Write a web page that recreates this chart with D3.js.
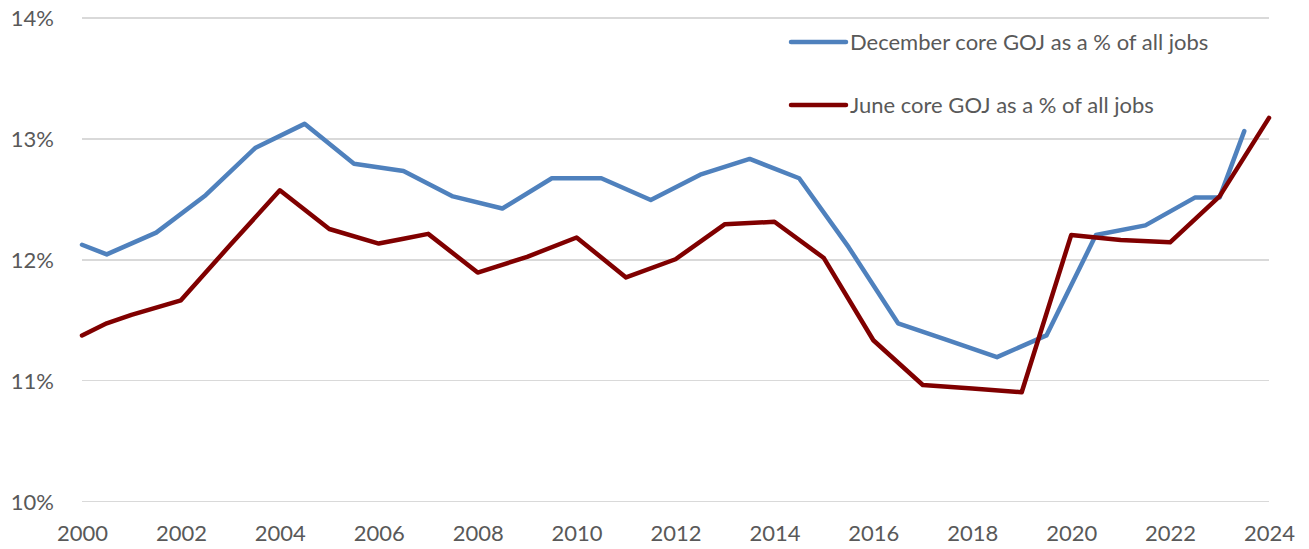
<!DOCTYPE html>
<meta charset="utf-8">
<style>
  body { margin: 0; background: #fff; }
  .grid line { stroke: #d9d9d9; stroke-width: 1.5px; shape-rendering: crispEdges; }
  .grid path { stroke-width: 0; }
  .axis text { fill: #595959; font-family: Lato, "Open Sans", sans-serif; font-size: 22px; }
  .axis path, .axis line { display: none; }
  .line { fill: none; stroke-width: 4.5px; stroke-linejoin: round; stroke-linecap: round; }
  .legend text { fill: #595959; font-family: Lato, "Open Sans", sans-serif; font-size: 22px; }
</style>

<script src="https://d3js.org/d3.v7.min.js"></script>

<div id="chart"></div>

<script>
  // December series (plotted mid-year in the source chart)
  var decYears = [2000, 2000.5, 2001.5, 2002.5, 2003.5, 2004.5, 2005.5, 2006.5, 2007.5, 2008.5,
                  2009.5, 2010.5, 2011.5, 2012.5, 2013.5, 2014.5, 2015.5, 2016.5, 2017.5, 2018.5,
                  2019.5, 2020.5, 2021.5, 2022.5, 2023, 2023.5];
  var decValues = [12.12, 12.04, 12.22, 12.53, 12.92, 13.12, 12.79, 12.73, 12.52, 12.42,
                   12.67, 12.67, 12.49, 12.70, 12.83, 12.67, 12.10, 11.47, 11.33, 11.19,
                   11.37, 12.20, 12.28, 12.51, 12.51, 13.06];

  // June series
  var junYears = [2000, 2000.5, 2001, 2002, 2003, 2004, 2005, 2006, 2006.5, 2007, 2008, 2009,
                  2010, 2011, 2012, 2013, 2014, 2015, 2016, 2017, 2018, 2019, 2020, 2021,
                  2022, 2023, 2024];
  var junValues = [11.37, 11.47, 11.54, 11.66, 12.12, 12.57, 12.25, 12.13, 12.17, 12.21, 11.89, 12.02,
                   12.18, 11.85, 12.00, 12.29, 12.31, 12.01, 11.33, 10.96, 10.93, 10.90, 12.20, 12.16,
                   12.14, 12.52, 13.17];

  var xTicks = [2000, 2002, 2004, 2006, 2008, 2010, 2012, 2014, 2016, 2018, 2020, 2022, 2024];
  var yTicks = [10, 11, 12, 13, 14];

  var seriesNames = ["December core GOJ as a % of all jobs", "June core GOJ as a % of all jobs"];
  var colors = ["#4f81bd", "#800000"];

  var W = 1309, H = 549;

  var svg = d3.select("#chart")
    .append("svg")
      .attr("width", W)
      .attr("height", H);

  var x = d3.scaleLinear()
    .domain([2000, 2024])
    .range([82, 1269]);

  var y = d3.scaleLinear()
    .domain([10, 14])
    .range([501, 17.5]);

  // horizontal gridlines
  svg.append("g")
    .attr("class", "grid")
    .attr("transform", "translate(" + x.range()[0] + ",0)")
    .call(d3.axisLeft(y)
      .tickValues(yTicks)
      .tickSize(-(x.range()[1] - x.range()[0]))
      .tickFormat(""));

  // y labels
  var yAxis = svg.append("g")
    .attr("class", "axis")
    .attr("transform", "translate(82,0)")
    .call(d3.axisLeft(y)
      .tickValues(yTicks)
      .tickSize(0)
      .tickPadding(28)
      .tickFormat(function(d) { return d + "%"; }));
  yAxis.selectAll("text").attr("dy", "0.38em");

  // x labels
  var xAxis = svg.append("g")
    .attr("class", "axis")
    .attr("transform", "translate(0,501)")
    .call(d3.axisBottom(x)
      .tickValues(xTicks)
      .tickSize(0)
      .tickPadding(24)
      .tickFormat(d3.format("d")));

  var line = d3.line()
    .x(function(d) { return x(d[0]); })
    .y(function(d) { return y(d[1]); });

  var decData = d3.zip(decYears, decValues);
  var junData = d3.zip(junYears, junValues);

  svg.append("path")
    .datum(decData)
    .attr("class", "line")
    .attr("stroke", colors[0])
    .attr("d", line);

  svg.append("path")
    .datum(junData)
    .attr("class", "line")
    .attr("stroke", colors[1])
    .attr("d", line);

  // legend
  var legend = svg.selectAll(".legend")
    .data(seriesNames)
    .enter().append("g")
    .attr("class", "legend")
    .attr("transform", function(d, i) { return "translate(791," + (42 + i * 63) + ")"; });

  legend.append("line")
    .attr("x1", 0)
    .attr("x2", 55)
    .attr("stroke", function(d, i) { return colors[i]; })
    .attr("stroke-width", 4.5)
    .attr("stroke-linecap", "round");

  legend.append("text")
    .attr("x", 59)
    .attr("dy", "0.36em")
    .text(function(d) { return d; });
</script>
